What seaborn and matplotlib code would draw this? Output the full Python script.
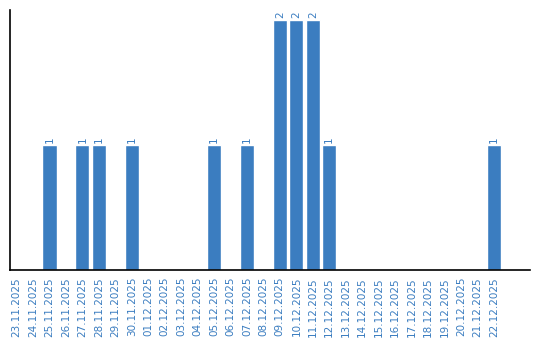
import matplotlib
matplotlib.use("Agg")
import matplotlib.pyplot as plt
import seaborn as sns
import pandas as pd

dates = ["23.11.2025", "24.11.2025", "25.11.2025", "26.11.2025", "27.11.2025",
         "28.11.2025", "29.11.2025", "30.11.2025", "01.12.2025", "02.12.2025",
         "03.12.2025", "04.12.2025", "05.12.2025", "06.12.2025", "07.12.2025",
         "08.12.2025", "09.12.2025", "10.12.2025", "11.12.2025", "12.12.2025",
         "13.12.2025", "14.12.2025", "15.12.2025", "16.12.2025", "17.12.2025",
         "18.12.2025", "19.12.2025", "20.12.2025", "21.12.2025", "22.12.2025"]
counts = [0, 0, 1, 0, 1, 1, 0, 1, 0, 0,
          0, 0, 1, 0, 1, 0, 2, 2, 2, 1,
          0, 0, 0, 0, 0, 0, 0, 0, 0, 1]

color = "#3b7dc0"
df = pd.DataFrame({"date": dates, "count": counts})

sns.set_style("white")
fig = plt.figure(figsize=(5.4, 3.4), dpi=100)
ax = fig.add_axes([10/540, 70/340, 520/540, 260/340])
sns.barplot(data=df, x="date", y="count", color=color, width=0.86,
            saturation=1, ax=ax)

for i, v in enumerate(counts):
    if v > 0:
        ax.text(i, v + 0.02, str(v), rotation=90, ha="center", va="bottom",
                color=color, fontsize=7.5)

ax.set_xlim(-0.4, 31.2)
ax.set_ylim(0, 2.08)
ax.set_xlabel("")
ax.set_ylabel("")
ax.set_yticks([])
ax.tick_params(axis="x", length=0, pad=5, labelsize=7.5, labelcolor=color,
               rotation=90)
for s in ["top", "right"]:
    ax.spines[s].set_visible(False)
for s in ["left", "bottom"]:
    ax.spines[s].set_color("black")
    ax.spines[s].set_linewidth(1.2)

fig.savefig("out.png", dpi=100)
